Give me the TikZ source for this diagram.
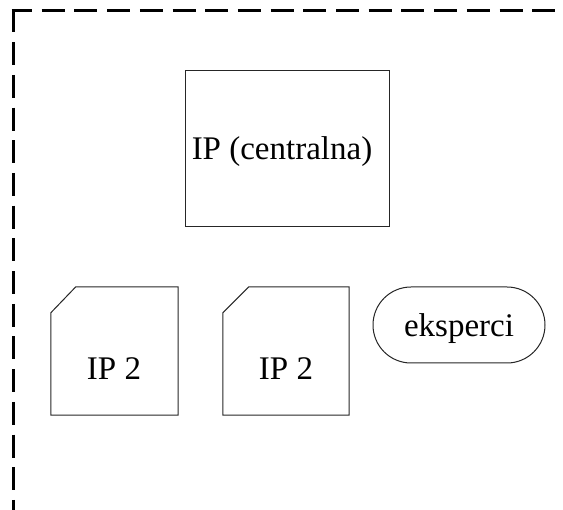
\documentclass[tikz,border=0pt]{standalone}
\usepackage{fontspec}
\setmainfont{Liberation Serif}
\usetikzlibrary{shapes.misc}
\begin{document}
\begin{tikzpicture}[x=1pt,y=-1pt,
  frame/.style={line width=3pt, black, dash pattern=on 23pt off 9.7pt},
  boxline/.style={draw=black!85, line width=1pt, inner sep=0pt},
  rectbox/.style={boxline, rectangle},
  hidbox/.style={rectangle, inner sep=0pt},
  pillbox/.style={boxline, rounded rectangle},
  txt/.style={font=\fontsize{33}{40}\selectfont, anchor=base, inner sep=0pt}]
\useasboundingbox (0,0) rectangle (563,510);
% dashed frame
\coordinate (fh0) at (11.5,11);
\coordinate (fh1) at (563,11);
\coordinate (fv0) at (13,9.5);
\coordinate (fv1) at (13,510);
\draw[frame, dash phase=2.5pt] (fh0) -- (fh1);
\draw[frame] (fv0) -- (fv1);
% central box
\node[rectbox, minimum width=204pt, minimum height=156pt] (central) at (287,149) {};
\node[txt] (centralt) at (282,160) {IP (centralna)};
% chamfered boxes
\node[hidbox, minimum width=127pt, minimum height=128pt] (ipa) at (114.5,351) {};
\draw[black!85, line width=1pt] ([xshift=25pt]ipa.north west) -- (ipa.north east) -- (ipa.south east)
  -- (ipa.south west) -- ([yshift=-26pt]ipa.north west) -- cycle;
\node[txt] (ipat) at (114,380) {IP 2};
\node[hidbox, minimum width=126pt, minimum height=128pt] (ipb) at (286,351) {};
\draw[black!85, line width=1pt] ([xshift=26pt]ipb.north west) -- (ipb.north east) -- (ipb.south east)
  -- (ipb.south west) -- ([yshift=-26pt]ipb.north west) -- cycle;
\node[txt] (ipbt) at (286,380) {IP 2};
% experts
\node[pillbox, minimum width=172pt, minimum height=76pt] (exp) at (459,325) {};
\node[txt] (expt) at (459,337) {eksperci};
\end{tikzpicture}
\end{document}
